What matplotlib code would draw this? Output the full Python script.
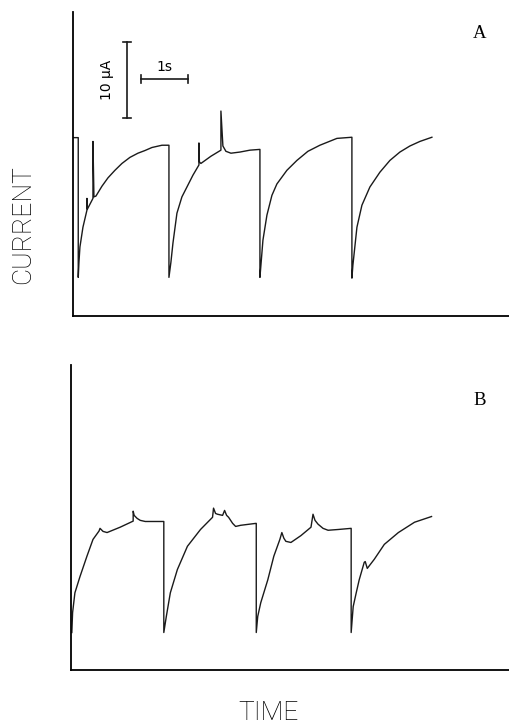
import matplotlib
matplotlib.use('Agg')
import matplotlib.pyplot as plt

# trace A : time (s), current (uA)
time_a = [0.01, 0.113, 0.113, 0.128, 0.149, 0.213, 0.298, 0.298, 0.309, 0.426, 0.426, 0.447,
          0.489, 0.617, 0.745, 0.894, 1.043, 1.213, 1.383, 1.532, 1.681, 1.894, 2.043,
          2.043, 2.085, 2.128, 2.213, 2.319, 2.426, 2.553, 2.681, 2.681, 2.691, 2.723,
          2.936, 3.149, 3.149, 3.191, 3.255, 3.362, 3.553, 3.766, 3.979,
          3.979, 4.0, 4.043, 4.128, 4.234, 4.34, 4.553, 4.766, 5.0, 5.255, 5.617, 5.936,
          5.936, 5.957, 6.043, 6.149, 6.319, 6.532, 6.745, 6.957, 7.17, 7.383, 7.638]
current_a = [23.5, 23.5, 5.1, 7.1, 9.1, 11.7, 13.95, 15.5, 14.1, 15.5, 23.0, 15.7,
             15.8, 17.1, 18.2, 19.2, 20.1, 20.9, 21.45, 21.8, 22.2, 22.5, 22.5,
             5.1, 7.1, 9.6, 13.55, 15.7, 17.0, 18.55, 19.9, 22.8, 20.3, 20.1,
             21.05, 21.85, 27.0, 22.4, 21.7, 21.45, 21.6, 21.85, 21.95,
             5.1, 6.7, 10.0, 13.3, 15.9, 17.4, 19.2, 20.5, 21.7, 22.5, 23.4, 23.55,
             5.0, 6.7, 11.7, 14.6, 17.0, 18.95, 20.5, 21.6, 22.4, 23.0, 23.55]

# trace B
time_b = [0.02, 0.036, 0.085, 0.191, 0.34, 0.468, 0.596, 0.617, 0.681, 0.766, 1.043, 1.319,
          1.319, 1.34, 1.404, 1.468, 1.574, 1.968,
          1.968, 2.021, 2.106, 2.255, 2.468, 2.745, 3.0, 3.021, 3.064, 3.106, 3.213, 3.255,
          3.298, 3.34, 3.426, 3.489, 3.596, 3.915, 3.926,
          3.926, 3.957, 4.021, 4.17, 4.298, 4.426, 4.468, 4.511, 4.553, 4.66, 4.872, 5.085,
          5.128, 5.17, 5.234, 5.34, 5.447, 5.66, 5.936,
          5.936, 5.979, 6.043, 6.106, 6.213, 6.234, 6.277, 6.426, 6.638, 6.936, 7.277, 7.638]
current_b = [4.9, 7.5, 10.1, 12.2, 14.9, 17.1, 18.2, 18.55, 18.15, 18.0, 18.7, 19.5,
             20.8, 20.25, 19.85, 19.6, 19.45, 19.45,
             4.9, 7.0, 10.1, 13.15, 16.2, 18.4, 20.0, 21.2, 20.5, 20.4, 20.25, 20.9,
             20.25, 20.0, 19.2, 18.8, 18.95, 19.2, 19.2,
             4.9, 7.0, 8.8, 11.8, 14.9, 17.1, 18.0, 17.25, 16.85, 16.7, 17.6, 18.7,
             20.4, 19.6, 19.1, 18.55, 18.3, 18.4, 18.55,
             4.9, 8.3, 10.1, 11.8, 14.1, 14.2, 13.3, 14.5, 16.45, 18.0, 19.35, 20.1]

panel_labels = ['A', 'B']
scale_current = 10   # uA
scale_time = 1       # s

fig = plt.figure(figsize=(5.1, 7.25), dpi=100)
ax_a = fig.add_axes([0.143, 0.564, 0.857, 0.419])
ax_b = fig.add_axes([0.139, 0.076, 0.861, 0.421])

for ax, t, i, lab in [(ax_a, time_a, current_a, panel_labels[0]),
                      (ax_b, time_b, current_b, panel_labels[1])]:
    ax.plot(t, i, color='#1a1a1a', lw=1.0)
    ax.set_xlim(0, 9.3)
    ax.set_ylim(0, 40)
    ax.spines['top'].set_visible(False)
    ax.spines['right'].set_visible(False)
    ax.spines['left'].set_linewidth(1.3)
    ax.spines['bottom'].set_linewidth(1.3)
    ax.set_xticks([])
    ax.set_yticks([])
    ax.text(8.65, 37.2 if lab == 'A' else 35.3, lab, fontsize=13.5,
            family='Liberation Serif', ha='center', va='center')

# scale bars in panel A
x0, y0 = 1.15, 26.05
ax_a.plot([x0, x0], [y0, y0 + scale_current], color='#1a1a1a', lw=1.2)
ax_a.plot([x0 - 0.09, x0 + 0.09], [y0, y0], color='#1a1a1a', lw=1.2)
ax_a.plot([x0 - 0.09, x0 + 0.09], [y0 + scale_current] * 2, color='#1a1a1a', lw=1.2)
hx, hy = 1.447, 31.2
ax_a.plot([hx, hx + scale_time], [hy, hy], color='#1a1a1a', lw=1.2)
ax_a.plot([hx, hx], [hy - 0.5, hy + 0.5], color='#1a1a1a', lw=1.2)
ax_a.plot([hx + scale_time] * 2, [hy - 0.5, hy + 0.5], color='#1a1a1a', lw=1.2)
ax_a.text(x0 - 0.42, y0 + scale_current / 2, '10 \u03bcA', rotation=90, fontsize=10,
          ha='center', va='center')
ax_a.text(hx + scale_time / 2, hy + 1.6, '1s', fontsize=10, ha='center', va='center')

fig.text(23 / 510, 1 - 225 / 725, 'CURRENT', rotation=90, fontsize=19, fontweight='light',
         family='Roboto', ha='center', va='center', color='black')
fig.text(269 / 510, 1 - 713 / 725, 'TIME', fontsize=19, fontweight='light',
         family='Roboto', ha='center', va='center', color='black')

plt.savefig('out.png', dpi=100)
